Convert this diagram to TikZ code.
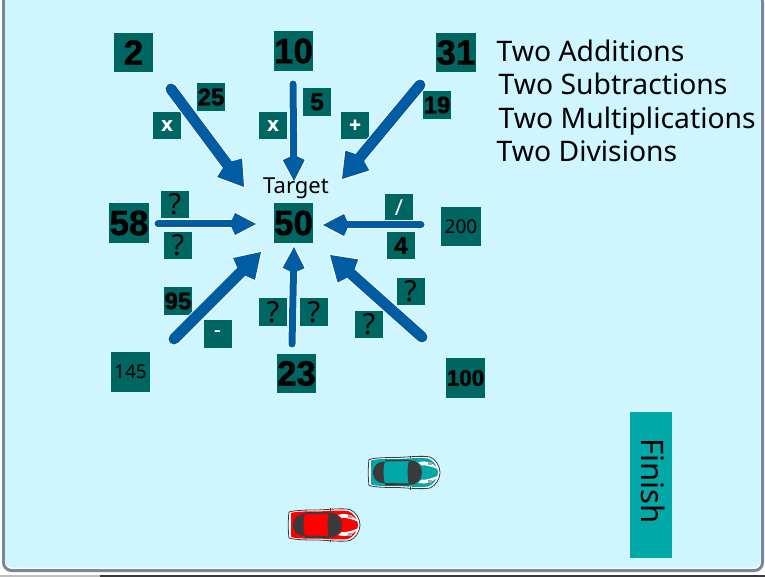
\documentclass[tikz,border=0pt]{standalone}
\usepackage{fontspec}
\usetikzlibrary{arrows.meta}
\setmainfont{Noto Sans}
\newfontfamily\arialfam[UprightFont={* Bold},RawFeature={embolden=1.2}]{Liberation Sans}
\definecolor{panelbg}{RGB}{207,246,255}
\definecolor{boxteal}{RGB}{0,102,98}
\definecolor{arrowblue}{RGB}{0,92,163}
\definecolor{finishteal}{RGB}{0,168,168}
\definecolor{panelline}{RGB}{125,132,158}
\definecolor{carglass}{RGB}{58,58,60}
\tikzset{
  numbox/.style={fill=boxteal,inner sep=0pt,text=black,align=center},
  bigbox/.style={numbox,minimum width=39.5pt,minimum height=39.5pt},
  smallbox/.style={numbox,minimum width=28pt,minimum height=27.5pt},
  bigdigits/.style={font=\arialfam\fontsize{35}{35}\selectfont},
  smalldigits/.style={font=\arialfam\fontsize{24}{24}\selectfont},
  plaindigits/.style={font=\fontsize{19}{19}\selectfont},
  askmark/.style={font=\fontsize{29}{29}\selectfont},
  opmark/.style={text=white,font=\arialfam\fontsize{20}{20}\selectfont},
  thinop/.style={text=white,font=\fontsize{22}{22}\selectfont},
  legend/.style={anchor=base west,inner sep=0pt,text=black,font=\fontsize{28.3}{28.3}\selectfont},
  halothin/.style={draw=white,line cap=round,line width=9pt,-{Kite[length=29pt,width=25pt,inset=6pt,fill=white]},shorten >=-2pt},
  corethin/.style={draw=arrowblue,line cap=round,line width=7pt,-{Kite[length=26pt,width=22pt,inset=5pt,fill=arrowblue]}},
  halothick/.style={draw=white,line cap=round,line width=13pt,-{Kite[length=33pt,width=34pt,inset=7pt,fill=white]},shorten >=-2pt},
  corethick/.style={draw=arrowblue,line cap=round,line width=11pt,-{Kite[length=30pt,width=31pt,inset=6pt,fill=arrowblue]}},
  pics/racecar/.style={code={
    \path[fill=white,draw=carglass,line width=0.8pt]
      (1,-13) .. controls (8,-15) and (20,-15) .. (30,-15)
      .. controls (40,-15.5) and (55,-17) .. (62,-15.5)
      .. controls (68,-13) and (72,-6) .. (72,0)
      .. controls (72,6) and (68,13) .. (62,15.5)
      .. controls (55,17) and (40,15.5) .. (30,15)
      .. controls (20,15) and (8,15) .. (1,13)
      .. controls (0,6) and (0,-6) .. (1,-13) -- cycle;
    \fill[#1]
      (3,-12) .. controls (10,-14) and (20,-13.5) .. (30,-13.5)
      .. controls (40,-14) and (52,-15) .. (60,-14)
      .. controls (66,-12) and (70,-5) .. (70,0)
      .. controls (70,5) and (66,12) .. (60,14)
      .. controls (52,15) and (40,14) .. (30,13.5)
      .. controls (20,13.5) and (10,14) .. (3,12) -- cycle;
    \fill[white] (50,-10) .. controls (58,-13) and (66,-9) .. (71,-3)
      .. controls (66,-5) and (58,-8) .. (54,-7) -- cycle;
    \fill[white] (50,10) .. controls (58,13) and (66,9) .. (71,3)
      .. controls (66,5) and (58,8) .. (54,7) -- cycle;
    \fill[gray!70] (60,-10.5) rectangle (64,-7.5);
    \fill[gray!70] (60,7.5) rectangle (64,10.5);
    \fill[carglass] (17,-13) -- (41,-13) -- (41,-11.5) -- (17,-11) -- cycle;
    \fill[carglass] (17,13) -- (41,13) -- (41,11) -- (17,10.5) -- cycle;
    \fill[carglass] (17,-11) .. controls (10,-11) and (5,-7) .. (5,0)
      .. controls (5,7) and (10,11) .. (17,11)
      .. controls (15,5) and (15,-5) .. (17,-11) -- cycle;
    \fill[carglass] (41,-12) .. controls (49,-13) and (54,-7) .. (54,0)
      .. controls (54,7) and (49,13) .. (41,12)
      .. controls (39,5) and (39,-5) .. (41,-12) -- cycle;
    \draw[carglass,line width=0.7pt] (42,-17) -- (42,-14.5) (42,14.5) -- (42,17);
  }},
}
\begin{document}
\begin{tikzpicture}[x=1pt,y=-1pt]
\useasboundingbox (0,0) rectangle (765,577);
% page and panel
\fill[white] (0,0) rectangle (765,577);
\fill[gray!50] (0,575) rectangle (100,577);
\fill[carglass] (100,575) rectangle (765,577);
\filldraw[fill=white,draw=panelline,line width=3pt,rounded corners=8pt] (3.5,-6) rectangle (762.5,570.5);
\fill[panelbg,rounded corners=7pt] (5,-6) rectangle (760.5,567.5);
\fill[violet!15] (118,200.5) circle (1.6);
% numbers
\node[bigbox,bigdigits] (n2) at (133.5,52.5) {2};
\node[bigbox,bigdigits] (n10) at (293.5,51) {10};
\node[bigbox,bigdigits] (n31) at (456,52.5) {31};
\node[bigbox,bigdigits] (n58) at (129,223) {58};
\node[bigbox,bigdigits] (target) at (293.5,223) {50};
\node[bigbox,plaindigits] (n200) at (461,226.5) {200};
\node[bigbox,plaindigits] (n145) at (130.5,372) {145};
\node[bigbox,bigdigits] (n23) at (296.5,373.5) {23};
\node[bigbox,font=\arialfam\fontsize{22.5}{22.5}\selectfont] (n100) at (465.5,378) {100};
% operands and operators
\node[smallbox,smalldigits] (v25) at (211,97) {25};
\node[smallbox,opmark] (opa) at (167,125.5) {x};
\node[smallbox,smalldigits] (v5) at (317,102) {5};
\node[smallbox,opmark] (opb) at (273,125.5) {x};
\node[smallbox,opmark] (opc) at (355,125.5) {+};
\node[smallbox,smalldigits] (v19) at (437,105) {19};
\node[smallbox,askmark] (qa) at (175,204.5) {?};
\node[smallbox,askmark] (qb) at (178,245.5) {?};
\node[smallbox,thinop] (opd) at (399,207.5) {/};
\node[smallbox,smalldigits] (v4) at (401,245.5) {4};
\node[smallbox,smalldigits] (v95) at (178,301) {95};
\node[smallbox,thinop] (ope) at (217.5,334) {-};
\node[smallbox,askmark] (qc) at (273,312) {?};
\node[smallbox,askmark] (qd) at (314,312) {?};
\node[smallbox,askmark] (qe) at (369,324.5) {?};
\node[smallbox,askmark] (qf) at (410.5,291.5) {?};
% arrows
\coordinate (s1) at (171,89);  \coordinate (t1) at (244,187);
\coordinate (s2) at (293,84);  \coordinate (t2) at (294,181);
\coordinate (s3) at (420,85);  \coordinate (t3) at (342,179);
\coordinate (s4) at (158,224); \coordinate (t4) at (256,224);
\coordinate (s5) at (421,225); \coordinate (t5) at (323,225);
\coordinate (s6) at (174,339); \coordinate (t6) at (261,252);
\coordinate (s7) at (292,344); \coordinate (t7) at (294,247);
\coordinate (s8) at (422,337); \coordinate (t8) at (330,255);
\draw[halothick] (s1) -- (t1); \draw[corethick] (s1) -- (t1);
\draw[halothin]  (s2) -- (t2); \draw[corethin]  (s2) -- (t2);
\draw[halothick] (s3) -- (t3); \draw[corethick] (s3) -- (t3);
\draw[halothin]  (s4) -- (t4); \draw[corethin]  (s4) -- (t4);
\draw[halothin]  (s5) -- (t5); \draw[corethin]  (s5) -- (t5);
\draw[halothick] (s6) -- (t6); \draw[corethick] (s6) -- (t6);
\draw[halothin]  (s7) -- (t7); \draw[corethin]  (s7) -- (t7);
\draw[halothick] (s8) -- (t8); \draw[corethick] (s8) -- (t8);
% texts
\node[anchor=base,inner sep=0pt,text=black,font=\fontsize{22}{22}\selectfont] (targetlabel) at (296,194) {Target};
\node[legend] (la) at (496.5,61.5) {Two Additions};
\node[legend] (lb) at (498.5,95) {Two Subtractions};
\node[legend] (lc) at (498.5,129) {Two Multiplications};
\node[legend] (ld) at (496.5,162) {Two Divisions};
% finish
\fill[finishteal] (630,411.5) rectangle (672,558);
\node[rotate=-90,inner sep=0pt,text=black,font=\fontsize{31}{31}\selectfont] (finish) at (653,481) {Finish};
% cars
\pic at (368,472.5) {racecar=finishteal};
\pic at (288,525) {racecar=red};
\end{tikzpicture}
\end{document}
